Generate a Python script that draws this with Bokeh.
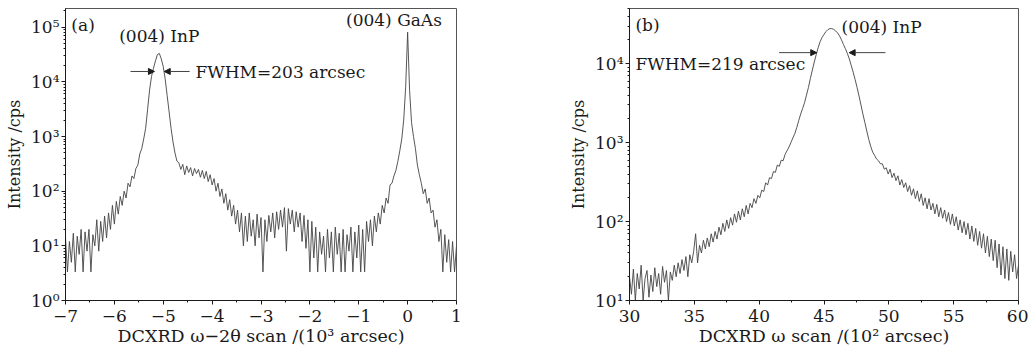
import numpy as np
from bokeh.plotting import figure
from bokeh.layouts import row
from bokeh.models import (Range1d, FixedTicker, CustomJSTickFormatter, Label,
                          Arrow, NormalHead)
from bokeh.embed import file_html
from bokeh.resources import INLINE

# ---------------- data: panel (a) omega-2theta scan ----------------
a_x_start = -7.0      # 10^3 arcsec
a_x_step = 0.04
a_counts = [
    14, 3.33, 12, 5, 17, 3.33, 15, 7, 20, 3.33, 18, 8, 20, 3.33, 16, 10,
    30, 8, 28, 12, 35, 14, 40, 20, 55, 25, 65, 38, 80, 55, 100, 75, 140, 120,
    190, 170, 260, 300, 480, 600, 900, 1410,
    3160, 7080, 12600, 17800, 24000, 31600, 33100, 26300, 19000, 11200, 5620,
    2820, 1410, 794, 500, 355,
    330, 250, 310, 200, 290, 220, 270, 190, 260, 210,
    250, 180, 240, 170, 230, 150, 200, 130, 170, 100,
    140, 80, 110, 60, 90, 45, 70, 35, 55, 25,
    45, 18, 40, 10,
    35, 12, 40, 15, 30, 10, 38, 14, 33, 3.33,
    30, 12, 36, 18, 40, 14, 42, 20, 45, 22,
    50, 8, 48, 25, 45, 18, 42, 22, 40, 12,
    36, 9, 30, 3.33, 28, 6, 22, 3.33, 18, 7,
    15, 3.33, 20, 6, 18, 3.33, 22, 7, 17, 3.33,
    20, 3.33, 16, 8, 22, 3.33, 18, 6, 24, 3.33,
    20, 3.33, 28, 12, 30, 10, 35, 18, 40, 25,
    55, 40, 75, 60, 130, 140, 190, 240, 350, 550,
    900, 2000, 8000,
    81000,
    7000, 1800, 1000, 600, 300, 200, 140, 90, 110, 60, 75, 40, 45, 22, 30,
    12, 20, 3.33, 16, 5, 13, 3.33, 12, 3.33, 10,
]

# ---------------- data: panel (b) omega scan ----------------
b_x_start = 30.0      # 10^2 arcsec
b_x_step = 0.15
b_counts = [
    20, 12, 25, 10, 22, 14, 28, 10, 19, 24,
    11, 21, 13, 26, 15, 22, 12, 27, 17, 24,
    10, 23, 18, 28, 20, 30, 22, 33, 24, 36,
    20, 38, 30, 42, 70, 30, 50, 40, 58, 45,
    62, 48, 70, 55, 75, 60, 85, 68, 95, 75,
    105, 82, 112, 90, 125, 98, 135, 105, 145, 115,
    160, 125, 170, 150, 195, 170, 215, 200, 250, 240,
    310, 290, 360, 350, 430, 420, 520, 500, 600, 590,
    710, 790, 880, 1000, 1150, 1300, 1550, 1900, 2300, 2700,
    3200, 4000, 5000, 6500, 8300, 10500, 13000, 16000, 19000, 21500,
    23500, 25500, 27000, 27800, 27800, 27200, 26000, 24500, 22500, 20000,
    17500, 15500, 13500, 11500, 9500, 7800, 6300, 5000, 3900, 3000,
    2300, 1800, 1400, 1100, 900, 760, 690, 620, 590, 540,
    540, 460, 480, 400, 460, 360, 410, 330, 380, 290,
    340, 270, 310, 240, 285, 215, 260, 195, 245, 180,
    225, 160, 200, 145, 195, 140, 170, 125, 165, 115,
    150, 110, 140, 100, 130, 92, 125, 88, 115, 78,
    105, 72, 100, 68, 95, 60, 88, 56, 82, 50,
    75, 46, 70, 40, 65, 36, 60, 32, 58, 26,
    52, 21, 48, 19, 45, 18, 42, 23, 38, 19,
    28,
]

a_x_ticks = [-7, -6, -5, -4, -3, -2, -1, 0, 1]
b_x_ticks = [30, 35, 40, 45, 50, 55, 60]
a_y_ticks = [1, 10, 100, 1000, 10000, 100000]
b_y_ticks = [10, 100, 1000, 10000]

a_peak_label = "(004) InP"
a_sub_label = "(004) GaAs"
a_fwhm_label = "FWHM=203 arcsec"
b_peak_label = "(004) InP"
b_fwhm_label = "FWHM=219 arcsec"

a_x = a_x_start + a_x_step * np.arange(len(a_counts))
b_x = b_x_start + b_x_step * np.arange(len(b_counts))

FONT = "DejaVu Serif"
LINE = "#444444"
INK = "#1a1a1a"

x_fmt = CustomJSTickFormatter(code="""
    return tick < 0 ? "\\u2212" + Math.abs(tick) : String(tick);
""")
y_fmt = CustomJSTickFormatter(code="""
    const sup = ["\\u2070","\\u00b9","\\u00b2","\\u00b3","\\u2074","\\u2075","\\u2076","\\u2077","\\u2078","\\u2079"];
    const e = Math.round(Math.log10(tick));
    return "10" + sup[e];
""")


def minor_log(ticks):
    out = []
    for t in ticks:
        for k in range(2, 10):
            out.append(t * k)
    return out


def minor_lin(ticks):
    out = []
    for t0, t1 in zip(ticks[:-1], ticks[1:]):
        out.append((t0 + t1) / 2)
    return out


def style(p, xticks, yticks, xlabel):
    p.xgrid.visible = False
    p.ygrid.visible = False
    p.outline_line_color = "#555555"
    p.outline_line_width = 1
    p.background_fill_color = "white"
    p.border_fill_color = "white"
    p.xaxis.ticker = FixedTicker(ticks=xticks, minor_ticks=minor_lin(xticks))
    p.yaxis.ticker = FixedTicker(ticks=yticks, minor_ticks=minor_log(yticks))
    p.xaxis.formatter = x_fmt
    p.yaxis.formatter = y_fmt
    for ax in (p.xaxis, p.yaxis):
        ax.axis_line_color = INK
        ax.axis_line_width = 1
        ax.major_tick_line_color = INK
        ax.minor_tick_line_color = INK
        ax.major_tick_in = 0
        ax.major_tick_out = 4
        ax.minor_tick_in = 0
        ax.minor_tick_out = 2
        ax.major_label_text_font = FONT
        ax.major_label_text_font_size = "17px"
        ax.major_label_text_color = INK
        ax.axis_label_text_font = FONT
        ax.axis_label_text_font_style = "normal"
        ax.axis_label_text_color = INK
    p.xaxis.axis_label_text_font_size = "17.5px"
    p.yaxis.axis_label_text_font_size = "16px"
    p.xaxis.major_label_standoff = 5
    p.yaxis.major_label_standoff = 2
    p.xaxis.axis_label_standoff = 1
    p.yaxis.axis_label_standoff = 4
    p.xaxis.axis_label = xlabel
    p.yaxis.axis_label = "Intensity /cps"


def label(p, x, y, text, align="left"):
    p.add_layout(Label(x=x, y=y, text=text, text_font=FONT,
                       text_font_size="17px", text_color=INK,
                       text_align=align, text_baseline="middle"))


def arrow(p, x0, x1, y):
    p.add_layout(Arrow(end=NormalHead(size=6, fill_color=INK, line_color=INK),
                       x_start=x0, y_start=y, x_end=x1, y_end=y,
                       line_color="#444444", line_width=1))


# ---------------- panel (a) ----------------
pa = figure(frame_width=391, frame_height=292, x_range=Range1d(-7, 1),
            y_range=Range1d(1, 2.2e5), y_axis_type="log",
            output_backend="svg", toolbar_location=None,
            min_border_left=65, min_border_right=61, min_border_top=7,
            min_border_bottom=44)
style(pa, a_x_ticks, a_y_ticks, "DCXRD \u03c9\u22122\u03b8 scan /(10\u00b3 arcsec)")
pa.line(a_x, a_counts, line_color=LINE, line_width=0.9)
label(pa, -6.88, 1.1e5, "(a)")
label(pa, -5.08, 6.9e4, a_peak_label, align="center")
label(pa, -4.34, 1.5e4, a_fwhm_label)
label(pa, -0.28, 1.35e5, a_sub_label, align="center")
arrow(pa, -5.67, -5.18, 1.55e4)
arrow(pa, -4.46, -4.98, 1.55e4)

# ---------------- panel (b) ----------------
pb = figure(frame_width=389, frame_height=292, x_range=Range1d(30, 60),
            y_range=Range1d(10, 5.0e4), y_axis_type="log",
            output_backend="svg", toolbar_location=None,
            min_border_left=112, min_border_right=10, min_border_top=8,
            min_border_bottom=43)
style(pb, b_x_ticks, b_y_ticks, "DCXRD \u03c9 scan /(10\u00b2 arcsec)")
pb.line(b_x, b_counts, line_color=LINE, line_width=0.9)
label(pb, 30.46, 3.1e4, "(b)")
label(pb, 30.46, 9.8e3, b_fwhm_label)
label(pb, 46.35, 2.95e4, b_peak_label)
arrow(pb, 41.54, 44.44, 1.38e4)
arrow(pb, 49.74, 46.94, 1.38e4)

layout = row(pa, pb)
open("out.html", "w").write(file_html(layout, INLINE))
